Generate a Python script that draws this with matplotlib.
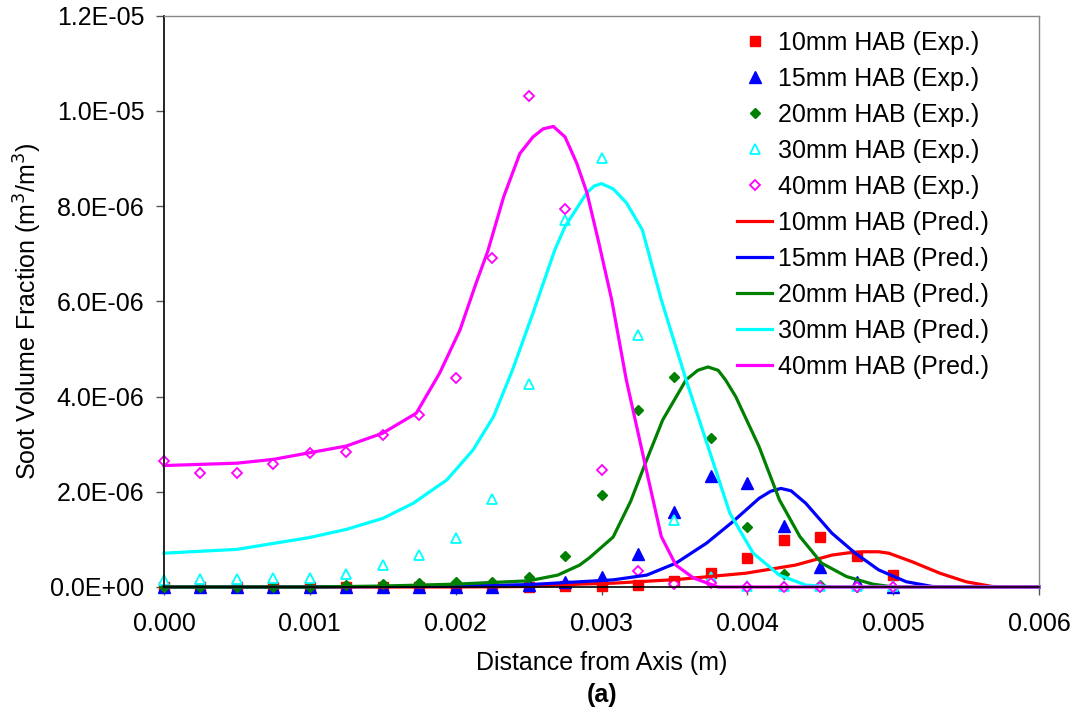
import numpy as np
import matplotlib
matplotlib.use('Agg')
import matplotlib.pyplot as plt
from matplotlib.ticker import FuncFormatter

plt.rcParams['font.family'] = ['Liberation Sans', 'DejaVu Sans']

# soot volume fraction values below are in units of 1e-6 m3/m3
UNIT = 1e-6

###### EXPERIMENT ######
x_exp = [0.0, 0.00025, 0.0005, 0.00075, 0.001, 0.00125, 0.0015, 0.00175, 0.002, 0.00225,
         0.0025, 0.00275, 0.003, 0.00325, 0.0035, 0.00375, 0.004, 0.00425, 0.0045, 0.00475, 0.005]
exp10 = [0, 0, 0, 0, 0, 0, 0, 0, 0.0, 0.01, 0.01, 0.02, 0.02, 0.04, 0.13, 0.30, 0.60, 0.98, 1.05, 0.66, 0.25]
exp15 = [0, 0, 0, 0, 0, 0, 0, 0, 0.0, 0.0, 0.04, 0.11, 0.22, 0.69, 1.58, 2.33, 2.18, 1.29, 0.41, 0.11, 0.0]
exp20 = [0, 0, 0, 0, 0.01, 0.04, 0.06, 0.08, 0.10, 0.11, 0.22, 0.65, 1.93, 3.72, 4.41, 3.13, 1.25, 0.27, 0.04, 0.01, 0.0]
exp30 = [0.15, 0.17, 0.17, 0.19, 0.19, 0.27, 0.46, 0.68, 1.03, 1.85, 4.26, 7.71, 9.01, 5.29, 1.41, 0.22,
         0.03, 0.03, 0.03, 0.02, 0.02]
exp40 = [2.65, 2.40, 2.40, 2.58, 2.82, 2.84, 3.19, 3.61, 4.39, 6.91, 10.32, 7.94, 2.46, 0.34, 0.07, 0.08,
         0.0, 0.0, 0.0, 0.0, 0.0]

###### PREDICTION ######
x_pred10 = [0, 0.001, 0.002, 0.0025, 0.00285, 0.00308, 0.00353, 0.00399, 0.00433, 0.00458, 0.0047,
            0.00479, 0.0049, 0.00497, 0.00513, 0.00532, 0.0055, 0.00568, 0.006]
pred10 = [0, 0, 0.0, 0.01, 0.06, 0.08, 0.16, 0.29, 0.46, 0.67, 0.72, 0.74, 0.74, 0.71, 0.53, 0.29,
          0.11, 0.01, 0]

x_pred15 = [0, 0.001, 0.002, 0.0025, 0.00285, 0.00308, 0.00331, 0.00351, 0.00372, 0.0039, 0.00408,
            0.00416, 0.00423, 0.0043, 0.0044, 0.00458, 0.00474, 0.0049, 0.00509, 0.00527, 0.0055, 0.006]
pred15 = [0, 0.0, 0.02, 0.05, 0.11, 0.15, 0.25, 0.50, 0.92, 1.37, 1.86, 2.01, 2.07, 2.02, 1.76, 1.13,
          0.71, 0.36, 0.11, 0.01, 0, 0]

x_pred20 = [0, 0.001, 0.0015, 0.002, 0.0025, 0.0027, 0.00285, 0.00292, 0.00308, 0.0032, 0.00331,
            0.00342, 0.00358, 0.00366, 0.00373, 0.0038, 0.00385, 0.00392, 0.00408, 0.00422, 0.00436,
            0.00451, 0.00468, 0.00486, 0.005, 0.006]
pred20 = [0, 0.0, 0.02, 0.06, 0.13, 0.25, 0.46, 0.62, 1.05, 1.80, 2.67, 3.51, 4.35, 4.55, 4.62, 4.55,
          4.35, 4.0, 2.95, 1.83, 1.06, 0.50, 0.22, 0.06, 0.0, 0]

x_pred30 = [0, 0.0005, 0.001, 0.00125, 0.0015, 0.00171, 0.00194, 0.00212, 0.00226, 0.00239, 0.00253,
            0.00268, 0.00275, 0.0029, 0.00295, 0.003, 0.00308, 0.00317, 0.00328, 0.00341, 0.00358,
            0.00373, 0.00388, 0.00404, 0.00422, 0.0044, 0.0046, 0.006]
pred30 = [0.71, 0.79, 1.04, 1.21, 1.44, 1.76, 2.25, 2.88, 3.58, 4.56, 5.75, 7.08, 7.57, 8.28, 8.42,
          8.47, 8.36, 8.07, 7.5, 6.03, 4.35, 2.95, 1.55, 0.71, 0.25, 0.04, 0.0, 0]

x_pred40 = [0, 0.0005, 0.00075, 0.001, 0.00125, 0.0015, 0.00173, 0.00189, 0.00203, 0.00214, 0.00222,
            0.00233, 0.00244, 0.00253, 0.0026, 0.00267, 0.00275, 0.00283, 0.0029, 0.00298, 0.00307,
            0.00317, 0.0033, 0.00341, 0.00351, 0.00363, 0.0038, 0.004, 0.006]
pred40 = [2.55, 2.60, 2.68, 2.82, 2.96, 3.23, 3.65, 4.49, 5.40, 6.38, 7.05, 8.20, 9.10, 9.45, 9.62,
          9.67, 9.45, 8.90, 8.28, 7.25, 6.03, 4.35, 2.56, 1.06, 0.46, 0.19, 0.0, 0.0, 0]

labels = ["10mm HAB", "15mm HAB", "20mm HAB", "30mm HAB", "40mm HAB"]
colors = ["#FF0000", "#0000FF", "#008000", "#00FFFF", "#FF00FF"]

fig = plt.figure(figsize=(10.78, 7.12), dpi=100)
ax = fig.add_axes([164/1078, 1-587/712, (1039-164)/1078, (587-15.5)/712])

# experiment markers (drawn first, lines go on top like in excel)
exps = [exp10, exp15, exp20, exp30, exp40]
mk = [dict(marker='s', ms=7, mfc=colors[0]),
      dict(marker='^', ms=8, mfc=colors[1]),
      dict(marker='D', ms=5.2, mfc=colors[2]),
      dict(marker='^', ms=7.5, mfc='white', mew=1.3),
      dict(marker='D', ms=5.2, mfc='white', mew=1.3)]
for i in range(5):
    ax.plot(x_exp, np.array(exps[i])*UNIT, ls='none', mec=colors[i], clip_on=False,
            label=labels[i] + " (Exp.)", **mk[i])

preds = [(x_pred10, pred10), (x_pred15, pred15), (x_pred20, pred20), (x_pred30, pred30), (x_pred40, pred40)]
for i in range(5):
    xp, yp = preds[i]
    ax.plot(xp, np.array(yp)*UNIT, color=colors[i], lw=2.3, clip_on=False,
            solid_joinstyle='round', label=labels[i] + " (Pred.)")

ax.set_xlim(0, 0.006)
ax.set_ylim(0, 1.2e-5)
ax.set_xticks([0, 0.001, 0.002, 0.003, 0.004, 0.005, 0.006])
ax.set_yticks([0, 2e-6, 4e-6, 6e-6, 8e-6, 1e-5, 1.2e-5])
ax.xaxis.set_major_formatter(FuncFormatter(lambda v, p: "{:.3f}".format(v)))
ax.yaxis.set_major_formatter(FuncFormatter(lambda v, p: "{:.1E}".format(v)))
ax.tick_params(axis='both', direction='out', length=6, width=1, color='#555555', labelsize=18)
ax.tick_params(axis='x', pad=12)
ax.tick_params(axis='y', pad=8)

for s in ['top', 'right']:
    ax.spines[s].set_color('#888888')
    ax.spines[s].set_linewidth(1)
for s in ['left', 'bottom']:
    ax.spines[s].set_color('black')
    ax.spines[s].set_linewidth(1.2)

fig.text(602/1078, 1-663/712, "Distance from Axis (m)", ha='center', va='center', fontsize=18)
fig.text(602/1078, 1-695/712, "(a)", ha='center', va='center', fontsize=18, fontweight='bold')
fig.text(28/1078, 1-311/712, "Soot Volume Fraction (m$^3$/m$^3$)", ha='center', va='center',
         rotation=90, fontsize=18)

ax.legend(loc='upper left', bbox_to_anchor=(737/1078, 1-31/712), bbox_transform=fig.transFigure,
          frameon=False, fontsize=18, borderpad=0, borderaxespad=0, handlelength=1.4,
          handletextpad=0.25, labelspacing=0.48, numpoints=1)

plt.savefig("out.png", dpi=100)
